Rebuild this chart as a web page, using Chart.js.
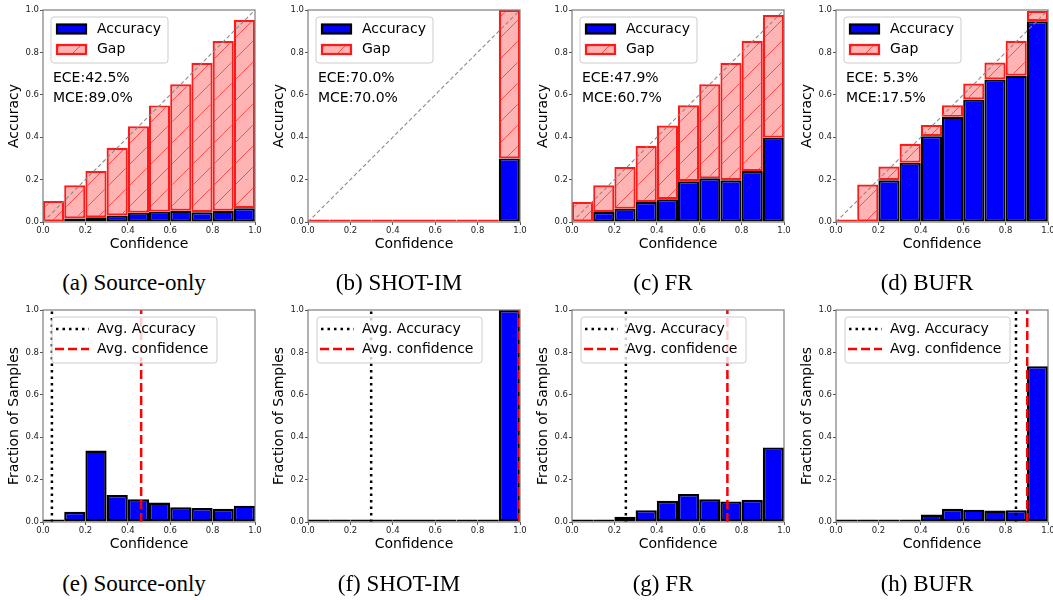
<!DOCTYPE html>
<html>
<head>
<meta charset="utf-8">
<script src="https://cdn.jsdelivr.net/npm/chart.js@4.4.0/dist/chart.umd.min.js"></script>
<style>
  html, body { margin: 0; padding: 0; background: #fff; width: 1053px; height: 600px; overflow: hidden; }
  .panel { position: absolute; }
  .cap {
    position: absolute; width: 260px; text-align: center; white-space: nowrap;
    font-family: "Liberation Serif", "Times New Roman", serif; font-size: 23px; line-height: 26px; color: #000;
  }
</style>
</head>
<body>
<div id="fig"></div>
<script>
  // bins of the reliability diagrams / histograms
  const binCenters = [0.05, 0.15, 0.25, 0.35, 0.45, 0.55, 0.65, 0.75, 0.85, 0.95];

  // (a) / (e) Source-only
  const sourceOnlyAccuracy = [0.0, 0.017, 0.022, 0.031, 0.044, 0.049, 0.053, 0.046, 0.053, 0.065];
  const sourceOnlyConfidence = [0.099, 0.173, 0.241, 0.35, 0.452, 0.55, 0.65, 0.751, 0.854, 0.953];
  const sourceOnlyFraction = [0.003, 0.048, 0.337, 0.127, 0.107, 0.092, 0.069, 0.066, 0.062, 0.077];

  // (b) / (f) SHOT-IM
  const shotAccuracy = [0, 0, 0, 0, 0, 0, 0, 0, 0, 0.30];
  const shotConfidence = [0, 0, 0, 0, 0, 0, 0, 0, 0, 1.0];
  const shotFraction = [0, 0, 0, 0, 0, 0, 0, 0, 0, 1.0];

  // (c) / (g) FR
  const frAccuracy = [0.0, 0.047, 0.063, 0.094, 0.107, 0.192, 0.206, 0.197, 0.24, 0.398];
  const frConfidence = [0.094, 0.173, 0.26, 0.359, 0.455, 0.551, 0.65, 0.751, 0.855, 0.977];
  const frFraction = [0.003, 0.008, 0.025, 0.056, 0.1, 0.132, 0.107, 0.097, 0.105, 0.352];

  // (d) / (h) BUFR
  const bufrAccuracy = [0.0, 0.0, 0.197, 0.28, 0.405, 0.496, 0.578, 0.672, 0.69, 0.947];
  const bufrConfidence = [0.0, 0.177, 0.262, 0.369, 0.457, 0.551, 0.653, 0.752, 0.855, 0.995];
  const bufrFraction = [0.001, 0.001, 0.004, 0.01, 0.035, 0.062, 0.058, 0.054, 0.056, 0.735];

  const avgAccuracy = [0.042, 0.298, 0.254, 0.849];
  const avgConfidence = [0.463, 0.997, 0.733, 0.902];

  const eceLabels = ["ECE:42.5%", "ECE:70.0%", "ECE:47.9%", "ECE: 5.3%"];
  const mceLabels = ["MCE:89.0%", "MCE:70.0%", "MCE:60.7%", "MCE:17.5%"];
  const topCaptions = ["(a) Source-only", "(b) SHOT-IM", "(c) FR", "(d) BUFR"];
  const bottomCaptions = ["(e) Source-only", "(f) SHOT-IM", "(g) FR", "(h) BUFR"];

  const accuracySeries = [sourceOnlyAccuracy, shotAccuracy, frAccuracy, bufrAccuracy];
  const confidenceSeries = [sourceOnlyConfidence, shotConfidence, frConfidence, bufrConfidence];
  const fractionSeries = [sourceOnlyFraction, shotFraction, frFraction, bufrFraction];

  const FONT = '"DejaVu Sans", sans-serif';
  const ACC_FILL = "#0000ff";
  const GAP_EDGE = "#ff1a1a";
  const CANVAS_LEFT = [0, 265, 529, 793];
  const CANVAS_W = 267;
  const CANVAS_H = 260;

  // matplotlib-like "/" hatch on light red
  function makeHatch() {
    const s = 21;
    const c = document.createElement("canvas");
    c.width = s; c.height = s;
    const g = c.getContext("2d");
    g.fillStyle = "#ffb3b3";
    g.fillRect(0, 0, s, s);
    g.strokeStyle = "rgba(255,40,40,0.75)";
    g.lineWidth = 1;
    g.beginPath();
    g.moveTo(-2, s + 2); g.lineTo(s + 2, -2);
    g.moveTo(-2, 2); g.lineTo(2, -2);
    g.moveTo(s - 2, s + 2); g.lineTo(s + 2, s - 2);
    g.stroke();
    return g.createPattern(c, "repeat");
  }
  const hatch = makeHatch();

  function legendBox(ctx, x, y, w, h) {
    const r = 3;
    ctx.beginPath();
    ctx.moveTo(x + r, y); ctx.lineTo(x + w - r, y); ctx.quadraticCurveTo(x + w, y, x + w, y + r);
    ctx.lineTo(x + w, y + h - r); ctx.quadraticCurveTo(x + w, y + h, x + w - r, y + h);
    ctx.lineTo(x + r, y + h); ctx.quadraticCurveTo(x, y + h, x, y + h - r);
    ctx.lineTo(x, y + r); ctx.quadraticCurveTo(x, y, x + r, y);
    ctx.closePath();
    ctx.fillStyle = "rgba(255,255,255,0.8)";
    ctx.fill();
    ctx.strokeStyle = "#cccccc";
    ctx.lineWidth = 1;
    ctx.stroke();
  }

  const decorPlugin = {
    id: "decor",
    afterDatasetsDraw(chart) {
      const { ctx, chartArea: a } = chart;
      ctx.save();
      ctx.strokeStyle = "#7d7d7d";
      ctx.lineWidth = 1.2;
      ctx.strokeRect(a.left, a.top, a.right - a.left, a.bottom - a.top);
      ctx.restore();
    },
    afterDraw(chart, args, opts) {
      const { ctx, chartArea: a } = chart;
      ctx.save();
      ctx.font = `14px ${FONT}`;
      ctx.textAlign = "left";
      ctx.textBaseline = "middle";
      if (opts.kind === "reliability") {
        const x = a.left + 8, y = a.top + 7;
        legendBox(ctx, x, y, 117, 46);
        ctx.lineWidth = 2.2;
        ctx.fillStyle = ACC_FILL;
        ctx.fillRect(x + 6, y + 7.5, 29, 9);
        ctx.strokeStyle = "#000";
        ctx.strokeRect(x + 6, y + 7.5, 29, 9);
        ctx.fillStyle = hatch;
        ctx.fillRect(x + 6, y + 28, 29, 9);
        ctx.strokeStyle = GAP_EDGE;
        ctx.strokeRect(x + 6, y + 28, 29, 9);
        ctx.fillStyle = "#000";
        ctx.fillText("Accuracy", x + 46, y + 12);
        ctx.fillText("Gap", x + 46, y + 32.5);
        ctx.fillText(opts.ece, a.left + 10, a.top + 68);
        ctx.fillText(opts.mce, a.left + 10, a.top + 88);
      } else {
        const x = a.left + 9, y = a.top + 7;
        legendBox(ctx, x, y, 165, 46);
        ctx.lineWidth = 2.5;
        ctx.strokeStyle = "#000";
        ctx.setLineDash([2.5, 4]);
        ctx.beginPath(); ctx.moveTo(x + 4, y + 12); ctx.lineTo(x + 37, y + 12); ctx.stroke();
        ctx.strokeStyle = "#ff0000";
        ctx.setLineDash([9, 4]);
        ctx.beginPath(); ctx.moveTo(x + 3, y + 32); ctx.lineTo(x + 37, y + 32); ctx.stroke();
        ctx.setLineDash([]);
        ctx.fillStyle = "#000";
        ctx.fillText("Avg. Accuracy", x + 45, y + 12);
        ctx.fillText("Avg. confidence", x + 45, y + 32);
      }
      ctx.restore();
    },
  };

  function axisScales(yTitle) {
    const tick = { size: 8.5, family: FONT };
    return {
      x: {
        type: "linear", min: 0, max: 1, offset: false,
        grid: { display: true, drawOnChartArea: false, drawTicks: true, tickLength: 3, color: "#555", offset: false },
        border: { display: false },
        ticks: { stepSize: 0.2, maxRotation: 0, autoSkip: false, padding: 1, color: "#222", font: tick, callback: (v) => v.toFixed(1) },
        title: { display: true, text: "Confidence", color: "#000", font: { size: 14, family: FONT }, padding: { top: 0, bottom: 7 } },
        afterFit(s) { s.height = 38; },
      },
      y: {
        type: "linear", min: 0, max: 1,
        grid: { display: true, drawOnChartArea: false, drawTicks: true, tickLength: 3, color: "#555" },
        border: { display: false },
        ticks: { stepSize: 0.2, padding: 1, color: "#222", font: tick, callback: (v) => v.toFixed(1) },
        title: { display: true, text: yTitle, color: "#000", font: { size: 14, family: FONT }, padding: { top: 6, bottom: 0 } },
        afterFit(s) { s.width = 43; },
      },
    };
  }

  function baseOptions(yTitle, decor) {
    return {
      responsive: false,
      animation: false,
      events: [],
      layout: { padding: { top: 10, right: 12, bottom: 0, left: 0 } },
      scales: axisScales(yTitle),
      plugins: { legend: { display: false }, tooltip: { enabled: false }, decor },
    };
  }

  function makeCanvas(col, row) {
    const wrap = document.createElement("div");
    wrap.className = "panel";
    wrap.style.left = CANVAS_LEFT[col] + "px";
    wrap.style.top = row * 300 + "px";
    const canvas = document.createElement("canvas");
    canvas.width = CANVAS_W;
    canvas.height = CANVAS_H;
    canvas.style.width = CANVAS_W + "px";
    canvas.style.height = CANVAS_H + "px";
    wrap.appendChild(canvas);
    document.getElementById("fig").appendChild(wrap);
    return canvas;
  }

  function addCaption(col, row, text) {
    const cx = CANVAS_LEFT[col] + 134;
    const cy = row === 0 ? 283 : 584;
    const d = document.createElement("div");
    d.className = "cap";
    d.textContent = text;
    d.style.left = cx - 130 + "px";
    d.style.top = cy - 13 + "px";
    document.getElementById("fig").appendChild(d);
  }

  function reliabilityChart(col) {
    const acc = accuracySeries[col];
    const conf = confidenceSeries[col];
    new Chart(makeCanvas(col, 0), {
      type: "bar",
      data: {
        datasets: [
          {
            type: "line", label: "diag", order: 0,
            data: [{ x: 0, y: 0 }, { x: 1, y: 1 }],
            borderColor: "#8a8a8a", borderWidth: 1.1, borderDash: [4, 2.5], pointRadius: 0, fill: false,
          },
          {
            label: "Gap", order: 1, grouped: false,
            data: binCenters.map((x, i) => ({ x, y: [acc[i], conf[i]] })),
            backgroundColor: hatch, borderColor: GAP_EDGE, borderWidth: 2.2, borderSkipped: false,
            minBarLength: 2.4, inflateAmount: 0, barPercentage: 1, categoryPercentage: 1, clip: false,
          },
          {
            label: "Accuracy", order: 2, grouped: false,
            data: binCenters.map((x, i) => ({ x, y: acc[i] })),
            backgroundColor: ACC_FILL, borderColor: "#000", borderWidth: 2.2, borderSkipped: false,
            inflateAmount: 0, barPercentage: 1, categoryPercentage: 1,
          },
        ],
      },
      options: baseOptions("Accuracy", { kind: "reliability", ece: eceLabels[col], mce: mceLabels[col] }),
      plugins: [decorPlugin],
    });
  }

  function histogramChart(col) {
    const frac = fractionSeries[col];
    new Chart(makeCanvas(col, 1), {
      type: "bar",
      data: {
        datasets: [
          {
            type: "line", label: "Avg. confidence", order: 0,
            data: [{ x: avgConfidence[col], y: 0 }, { x: avgConfidence[col], y: 1 }],
            borderColor: "#ff0000", borderWidth: 2.5, borderDash: [9, 4], pointRadius: 0, fill: false,
          },
          {
            type: "line", label: "Avg. Accuracy", order: 1,
            data: [{ x: avgAccuracy[col], y: 0 }, { x: avgAccuracy[col], y: 1 }],
            borderColor: "#000", borderWidth: 2.5, borderDash: [2.5, 4], pointRadius: 0, fill: false,
          },
          {
            label: "Fraction", order: 2, grouped: false,
            data: binCenters.map((x, i) => ({ x, y: frac[i] })),
            backgroundColor: ACC_FILL, borderColor: "#000", borderWidth: 2.4, borderSkipped: false,
            minBarLength: 2.6, inflateAmount: 0, barPercentage: 1, categoryPercentage: 1, clip: false,
          },
        ],
      },
      options: baseOptions("Fraction of Samples", { kind: "hist" }),
      plugins: [decorPlugin],
    });
  }

  for (let col = 0; col < 4; col++) {
    reliabilityChart(col);
    histogramChart(col);
    addCaption(col, 0, topCaptions[col]);
    addCaption(col, 1, bottomCaptions[col]);
  }
</script>
</body>
</html>
